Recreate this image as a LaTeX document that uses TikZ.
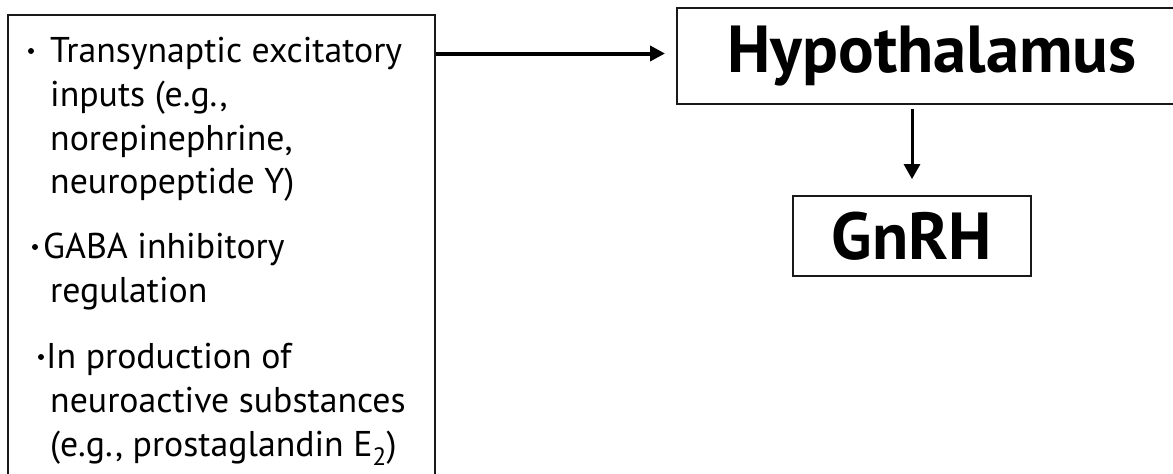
\documentclass[tikz,border=0pt]{standalone}
\usepackage{fontspec}
\setmainfont{PT Sans}
\usetikzlibrary{arrows.meta}
\begin{document}
\begin{tikzpicture}[x=1pt,y=-1pt,
  box/.style={draw=black!90, line width=1.8pt, inner sep=0pt},
  item/.style={anchor=base west, inner sep=0pt, font=\fontsize{35.8}{43}\selectfont},
  title/.style={font=\bfseries\fontsize{66.5}{68}\selectfont},
  bul/.style={fill=black, circle, inner sep=0pt, minimum size=6pt},
  arr/.style={-{Triangle[length=15pt,width=15pt]}, line width=4pt},
  arrv/.style={-{Triangle[length=15pt,width=16pt]}, line width=3pt}
]
\useasboundingbox (0,0) rectangle (1173,474);
\fill[white] (0,0) rectangle (1173,474);
\begin{scope}
\clip (0,0) rectangle (1173,474);
\node[box, minimum width=427pt, minimum height=490pt, anchor=north west] (inputs) at (7,14) {};
\node[box, title, minimum width=510pt, minimum height=96pt, anchor=north west] (hypo) at (676,7) {Hypothalamus};
\end{scope}
\node[box, title, minimum width=238pt, minimum height=80pt] (gnrh) at (912,236) {GnRH};

\node[bul] (b1) at (31,51) {};
\node[item] (l1) at (50,62) {Transynaptic excitatory};
\node[item] (l2) at (50,106) {inputs (e.g.,};
\node[item] (l3) at (50,150) {norepinephrine,};
\node[item] (l4) at (50,193) {neuropeptide Y)};
\node[bul] (b2) at (35,247) {};
\node[item] (l5) at (43,258) {GABA inhibitory};
\node[item] (l6) at (50,302) {regulation};
\node[bul] (b3) at (41,357) {};
\node[item] (l7) at (46,368) {In production of};
\node[item] (l8) at (50,412) {neuroactive substances};
\node[item] (l9) at (50,456) {(e.g., prostaglandin E\textsubscript{2})};

\draw[arr] (inputs.east |- 0,53.5) -- ([xshift=-11pt]hypo.west |- 0,53.5);
\draw[arrv] ([yshift=-4pt]hypo.south -| gnrh.north) -- ([yshift=16pt]gnrh.north);
\end{tikzpicture}
\end{document}
